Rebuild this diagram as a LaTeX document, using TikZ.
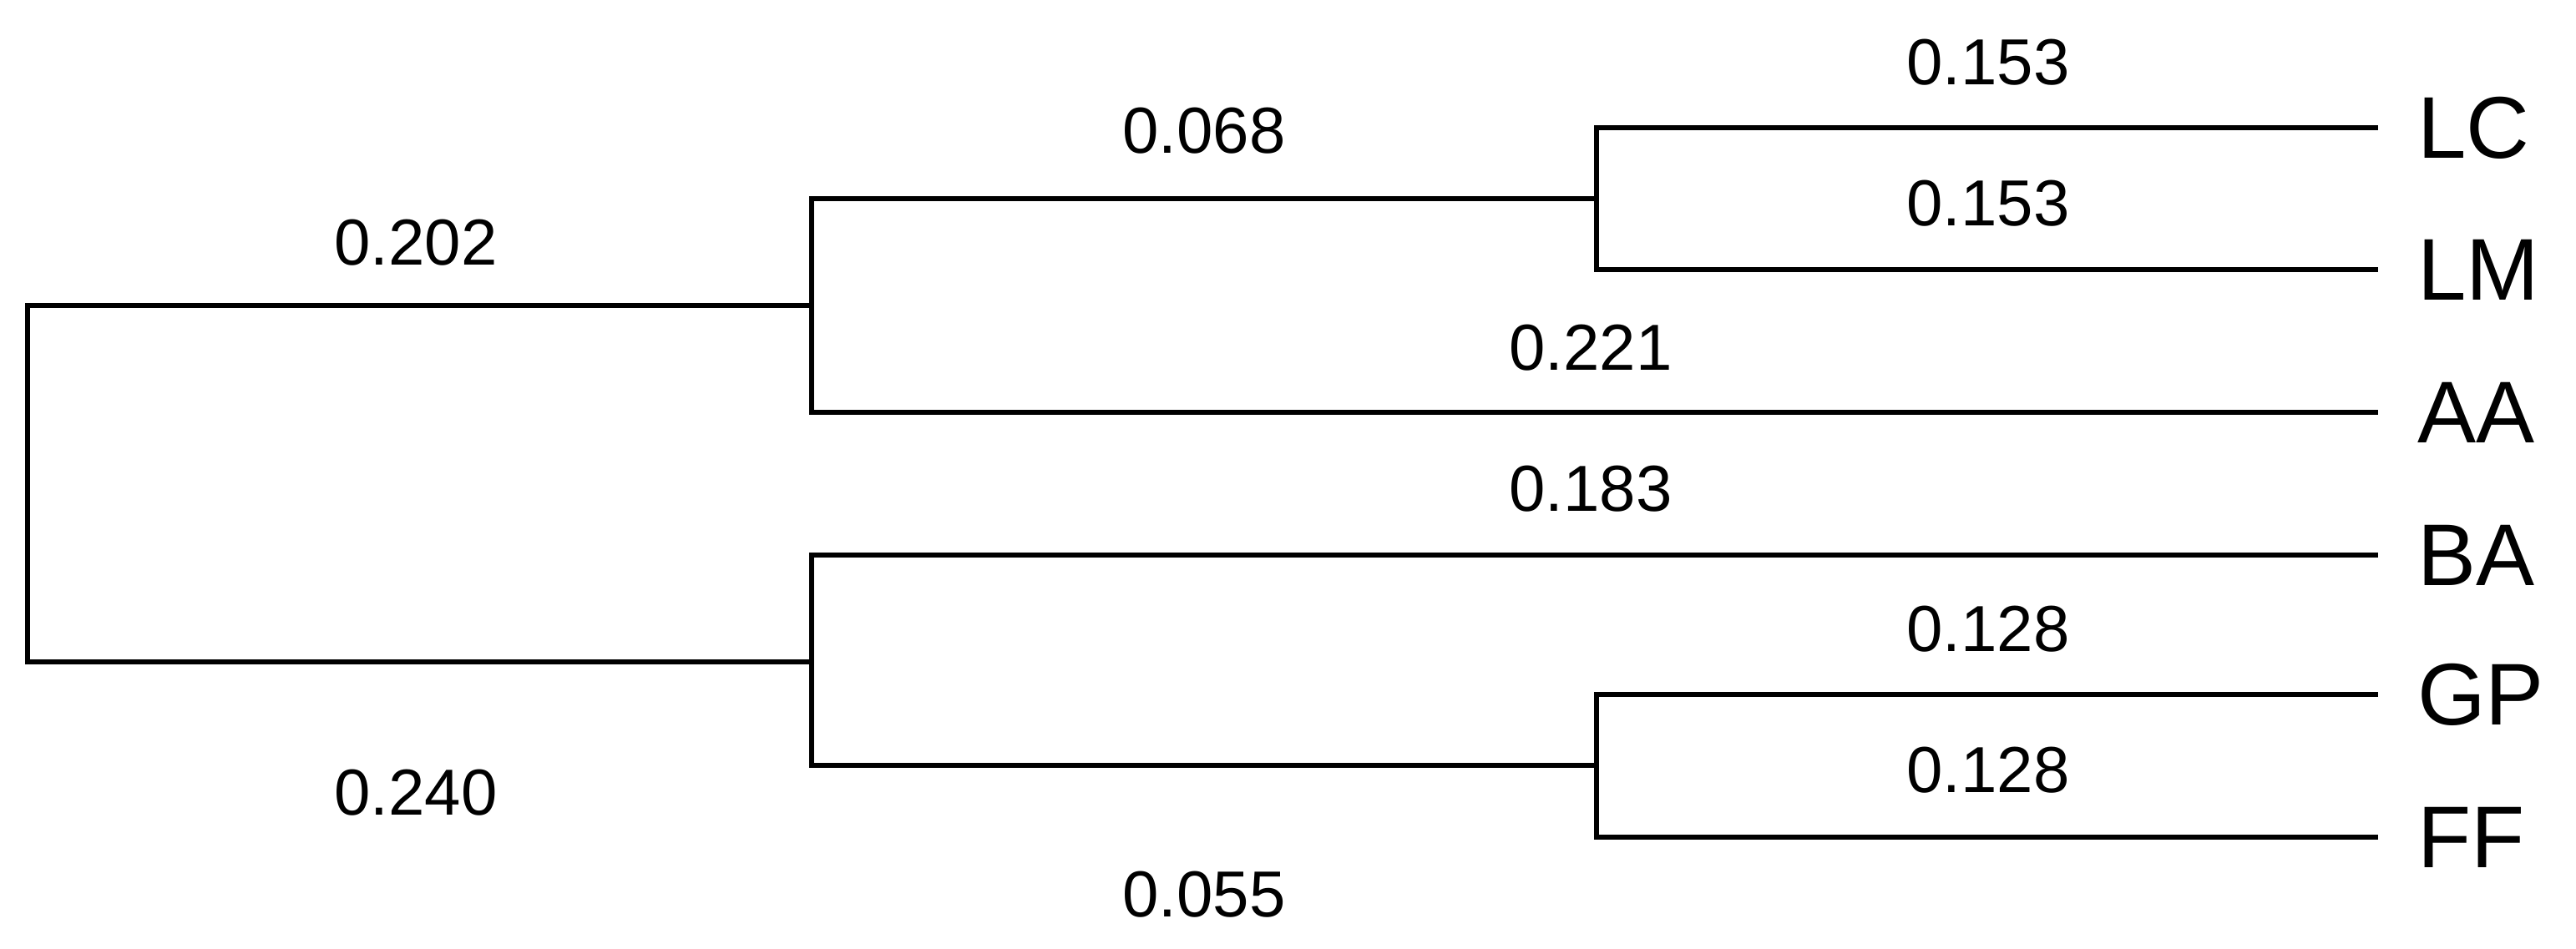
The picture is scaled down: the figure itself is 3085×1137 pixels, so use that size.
\documentclass[tikz,border=0pt]{standalone}
\usepackage{fontspec}
\setmainfont{Liberation Sans}
\begin{document}
\begin{tikzpicture}[x=0.1pt,y=-0.1pt,
  branch/.style={line width=0.65pt, line cap=rect, line join=miter},
  dist/.style={font=\fontsize{7.8}{9}\selectfont, inner sep=0pt},
  taxon/.style={font=\fontsize{10.5}{12}\selectfont, inner sep=0pt, anchor=west}]
\useasboundingbox (0,0) rectangle (3085,1137);
% internal nodes
\coordinate (root) at (33,580);
\coordinate (a) at (972,366);
\coordinate (b) at (972,793);
\coordinate (c) at (1912,238);
\coordinate (d) at (1912,917);
% leaf tips
\coordinate (tLC) at (2845,153);
\coordinate (tLM) at (2845,323);
\coordinate (tAA) at (2845,494);
\coordinate (tBA) at (2845,665);
\coordinate (tGP) at (2845,832);
\coordinate (tFF) at (2845,1003);
% taxon labels
\node[taxon] (LC) at (2893,153) {LC};
\node[taxon] (LM) at (2893,323) {LM};
\node[taxon] (AA) at (2893,494) {AA};
\node[taxon] (BA) at (2893,665) {BA};
\node[taxon] (GP) at (2893,832) {GP};
\node[taxon] (FF) at (2893,1003) {FF};
% branches
\draw[branch] (tLC) -| (c);
\draw[branch] (tLM) -| (c);
\draw[branch] (c) -| (a);
\draw[branch] (tAA) -| (a);
\draw[branch] (tBA) -| (b);
\draw[branch] (d) -| (b);
\draw[branch] (tGP) -| (d);
\draw[branch] (tFF) -| (d);
\draw[branch] (a) -| (root);
\draw[branch] (b) -| (root);
% branch lengths
\node[dist] (l202) at (498,291) {0.202};
\node[dist] (l240) at (498,950) {0.240};
\node[dist] (l068) at (1442,157) {0.068};
\node[dist] (l055) at (1442,1072) {0.055};
\node[dist] (l153a) at (2381,75) {0.153};
\node[dist] (l153b) at (2381,244) {0.153};
\node[dist] (l221) at (1905,417) {0.221};
\node[dist] (l183) at (1905,586) {0.183};
\node[dist] (l128a) at (2381,754) {0.128};
\node[dist] (l128b) at (2381,923) {0.128};
\end{tikzpicture}
\end{document}
